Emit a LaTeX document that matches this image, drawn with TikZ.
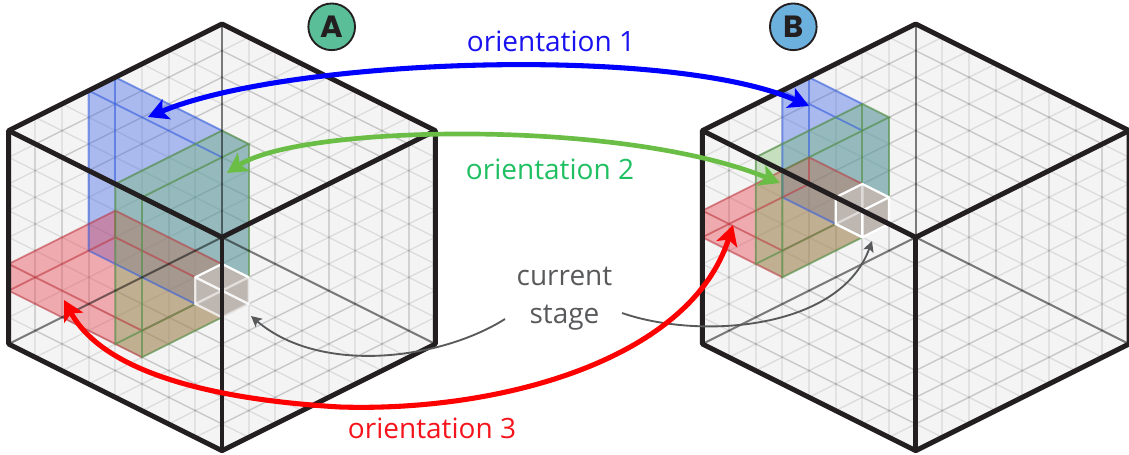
\documentclass[tikz,border=0pt]{standalone}
\usepackage{fontspec}
\setmainfont{Open Sans}
\newfontfamily\badgefont{Poppins}
\usetikzlibrary{arrows.meta}
\definecolor{inkk}{HTML}{231F20}
\definecolor{facebg}{HTML}{F4F4F4}
\definecolor{blueb}{RGB}{60,100,230}
\definecolor{greenb}{RGB}{110,185,95}
\definecolor{redb}{RGB}{230,60,70}
\definecolor{bluea}{HTML}{0000FF}
\definecolor{greena}{HTML}{6ABD45}
\definecolor{reda}{HTML}{FF0000}
\definecolor{bluet}{HTML}{1A12EE}
\definecolor{greent}{HTML}{1FBF62}
\definecolor{redt}{HTML}{F5141C}
\definecolor{grayt}{HTML}{58595B}
\definecolor{cubeg}{HTML}{BDB6B1}
\definecolor{badgea}{HTML}{5ABF98}
\definecolor{badgeb}{HTML}{6CB0DE}
\tikzset{
  gridv/.style={line width=1.6pt,black,opacity=.07},
  gridd/.style={line width=1pt,black,opacity=.095},
  hiddenedge/.style={line width=1.5pt,black,opacity=.5},
  frontedge/.style={line width=3.7pt,inkk,line join=bevel},
  bluefill/.style={fill=blueb,fill opacity=.4,draw=none},
  redfill/.style={fill=redb,fill opacity=.4,draw=none},
  greenfill/.style={fill=greenb,fill opacity=.35,draw=none},
  blueline/.style={line width=1.4pt,draw=blueb,opacity=.6},
  redline/.style={line width=1.4pt,draw=redb!85!black,opacity=.5},
  greenline/.style={line width=1.4pt,draw=greenb!80!black,opacity=.65},
  cubeout/.style={line width=1.7pt,white,line cap=round},
  bluearrow/.style={line width=3.8pt,bluea,{Stealth[length=15pt,width=16pt,inset=3.5pt]}-{Stealth[length=15pt,width=16pt,inset=3.5pt]}},
  greenarrow/.style={line width=3.5pt,greena,{Stealth[length=15pt,width=16pt,inset=3.5pt]}-{Stealth[length=15pt,width=16pt,inset=3.5pt]}},
  redarrow/.style={line width=3.8pt,reda,{Stealth[length=15pt,width=16pt,inset=3.5pt]}-{Stealth[length=15pt,width=16pt,inset=3.5pt]}},
  grayarrow/.style={line width=1.4pt,grayt,-{Stealth[length=8pt,width=8pt,inset=1.8pt]}},
  lab/.style={font=\fontsize{21pt}{28.5pt}\selectfont,inner sep=0pt,align=center},
  badge/.style={circle,draw=inkk,line width=1.4pt,minimum size=35pt,inner sep=0pt,font=\badgefont\bfseries\fontsize{23pt}{23pt}\selectfont,text=inkk}
}
\newcommand{\gridface}[8]{%
  \foreach \k in {1,...,7}{%
    \draw[#7] ({#1+(#5)*\k/8},{#2+(#6)*\k/8}) -- ++(#3,#4);
    \draw[#8] ({#1+(#3)*\k/8},{#2+(#4)*\k/8}) -- ++(#5,#6);
  }%
}
\newcommand{\cubebase}{%
  \fill[facebg] (0,-16) -- (8,-8) -- (8,8) -- (0,16) -- (-8,8) -- (-8,-8) -- cycle;
  \gridface{0}{0}{8}{8}{-8}{8}{gridd}{gridd}
  \gridface{0}{0}{0}{-16}{-8}{8}{gridv}{gridd}
  \gridface{0}{0}{0}{-16}{8}{8}{gridv}{gridd}
  \gridface{0}{-16}{8}{8}{-8}{8}{gridd}{gridd}
  \gridface{0}{16}{0}{-16}{-8}{-8}{gridv}{gridd}
  \gridface{0}{16}{0}{-16}{8}{-8}{gridv}{gridd}
}
\newcommand{\cubeframe}{%
  \draw[hiddenedge] (0,-16) -- (0,0);
  \draw[hiddenedge] (0,0) -- (-8,8);
  \draw[hiddenedge] (0,0) -- (8,8);
  \draw[frontedge] (0,-16) -- (8,-8) -- (8,8) -- (0,16) -- (-8,8) -- (-8,-8) -- cycle;
  \draw[frontedge] (-8,-8) -- (0,0) -- (8,-8);
  \draw[frontedge] (0,0) -- (0,16);
}
\begin{document}
\begin{tikzpicture}[x=.75pt,y=-.75pt]
\useasboundingbox (0,0) rectangle (1129,454);
\begin{scope}
\clip (0,0) rectangle (1129,454);
% ---------- cube A
\begin{scope}[shift={(222,237.3)},x=20pt,y=-10pt]
  \cubebase
  \fill[bluefill] (-5,-11) -- (-4,-12) -- (1,-7) -- (1,3) -- (0,2) -- (-1,3) -- (-1,5) -- (-5,1) -- cycle;
  \fill[redfill] (-8,2) -- (-4,-2) -- (0,2) -- (-1,3) -- (-1,5) -- (0,6) -- (-3,9) -- (-8,4) -- cycle;
  \fill[greenfill] (-4,-4) -- (0,-8) -- (1,-7) -- (1,3) -- (0,2) -- (-1,3) -- (-1,5) -- (0,6) -- (-3,9) -- (-4,8) -- cycle;
  \draw[blueline] (-4,-12) -- (0,-8);
  \draw[blueline] (-5,-11) -- (0,-6);
  \draw[blueline] (-5,-11) -- (-4,-12);
  \draw[blueline] (-5,-11) -- (-5,1) -- (-1,5);
  \draw[blueline] (-4,-12) -- (-4,-4);
  \draw[redline] (-8,2) -- (-4,-2) -- (0,2);
  \draw[redline] (-8,2) -- (-3,7) -- (-1,5);
  \draw[redline] (-8,4) -- (-4,0) -- (-1,3);
  \draw[redline] (-4,-2) -- (-4,0);
  \draw[redline] (-8,2) -- (-8,4) -- (-3,9);
  \draw[greenline] (0,-8) -- (-4,-4) -- (-4,8) -- (-1,5);
  \draw[greenline] (0,-8) -- (1,-7) -- (-3,-3) -- (-3,9) -- (0,6);
  \draw[greenline] (-4,-4) -- (-3,-3);
  \draw[greenline] (1,-7) -- (1,3);
  \fill[cubeg] (0,2) -- (1,3) -- (1,5) -- (0,6) -- (-1,5) -- (-1,3) -- cycle;
  \draw[cubeout,opacity=.55] (-1,5) -- (0,4) -- (1,3);
  \draw[cubeout,opacity=.9] (-1,3) -- (1,5);
  \draw[cubeout,opacity=.55] (1,3) -- (1,5) -- (0,6);
  \draw[cubeout,opacity=.75] (0,6) -- (-1,5) -- (-1,3);
  \draw[cubeout] (-1,3) -- (0,2) -- (1,3);
  \cubeframe
\end{scope}
% ---------- cube B
\begin{scope}[shift={(915.7,237.3)},x=20pt,y=-10pt]
  \cubebase
  \fill[bluefill] (-5,-11) -- (-4,-12) -- (-1,-9) -- (-1,-3) -- (-2,-4) -- (-3,-3) -- (-3,-1) -- (-5,-3) -- cycle;
  \fill[redfill] (-8,-2) -- (-4,-6) -- (-2,-4) -- (-3,-3) -- (-3,-1) -- (-2,0) -- (-5,3) -- (-8,0) -- cycle;
  \fill[greenfill] (-6,-6) -- (-2,-10) -- (-1,-9) -- (-1,-3) -- (-2,-4) -- (-3,-3) -- (-3,-1) -- (-2,0) -- (-5,3) -- (-6,2) -- cycle;
  \draw[blueline] (-4,-12) -- (-2,-10);
  \draw[blueline] (-5,-11) -- (-2,-8);
  \draw[blueline] (-5,-11) -- (-4,-12);
  \draw[blueline] (-5,-11) -- (-5,-3) -- (-3,-1);
  \draw[blueline] (-4,-12) -- (-4,-6);
  \draw[redline] (-8,-2) -- (-4,-6) -- (-2,-4);
  \draw[redline] (-8,-2) -- (-5,1) -- (-3,-1);
  \draw[redline] (-8,0) -- (-4,-4) -- (-3,-3);
  \draw[redline] (-4,-6) -- (-4,-4);
  \draw[redline] (-8,-2) -- (-8,0) -- (-5,3);
  \draw[greenline] (-2,-10) -- (-6,-6) -- (-6,2) -- (-3,-1);
  \draw[greenline] (-2,-10) -- (-1,-9) -- (-5,-5) -- (-5,3) -- (-2,0);
  \draw[greenline] (-6,-6) -- (-5,-5);
  \draw[greenline] (-1,-9) -- (-1,-3);
  \draw[greenline] (-2,-10) -- (-2,-4);
  \fill[cubeg] (-2,-4) -- (-1,-3) -- (-1,-1) -- (-2,0) -- (-3,-1) -- (-3,-3) -- cycle;
  \draw[cubeout,opacity=.5] (-3,-1) -- (-2,-2) -- (-2,-4);
  \draw[cubeout,opacity=.6] (-3,-3) -- (-2,-2);
  \draw[cubeout] (-1,-3) -- (-2,-2) -- (-2,0);
  \draw[cubeout] (-2,-4) -- (-1,-3) -- (-1,-1) -- (-2,0) -- (-3,-1) -- (-3,-3) -- cycle;
  \cubeframe
\end{scope}
\end{scope}
% ---------- badges
\node[badge,fill=badgea] (badgeA) at (331.7,26.8) {A};
\node[badge,fill=badgeb] (badgeB) at (793.3,26.8) {B};
% ---------- labels
\node[lab,text=bluet] (lab1) at (551,41) {orientation 1};
\node[lab,text=greent] (lab2) at (550,169) {orientation 2};
\node[lab,text=redt] (lab3) at (432,428) {orientation 3};
\node[lab,text=grayt] (stage) at (564.5,299) {current\\stage};
% ---------- connector ends
\coordinate (a1) at (148,117);
\coordinate (b1) at (809,106);
\coordinate (a2) at (227,173);
\coordinate (b2) at (780,183);
\coordinate (a3) at (64,300);
\coordinate (m3) at (340,407);
\coordinate (b3) at (733,225);
\coordinate (ga) at (505,319);
\coordinate (gat) at (251,316);
\coordinate (gb) at (622,313);
\coordinate (gbt) at (872,241);
\draw[grayarrow] (ga) .. controls (440,360) and (320,375) .. (gat);
\draw[grayarrow] (gb) .. controls (700,340) and (840,330) .. (gbt);
\draw[bluearrow] (a1) .. controls (290,58) and (670,45) .. (b1);
\draw[greenarrow] (a2) .. controls (300,125) and (620,118) .. (b2);
\draw[redarrow] (a3) .. controls (105,375) and (220,400) .. (m3) .. controls (500,412) and (690,360) .. (b3);
\end{tikzpicture}
\end{document}
